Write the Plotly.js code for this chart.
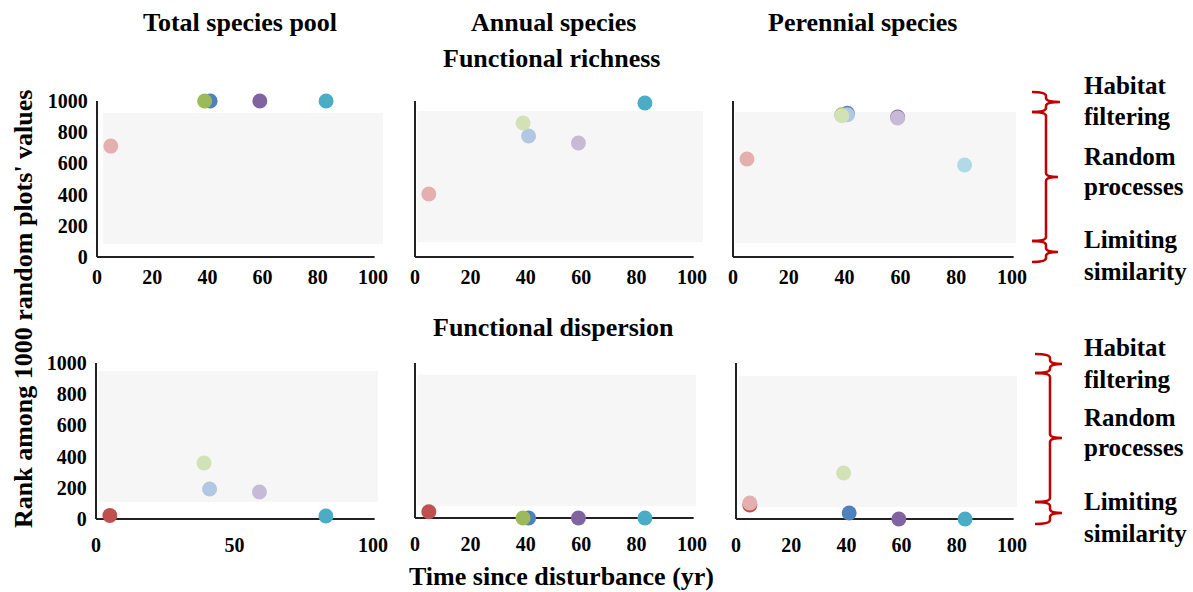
<!DOCTYPE html>
<html><head><meta charset="utf-8">
<script src="https://cdn.plot.ly/plotly-3.0.1.min.js"></script>
<style>html,body{margin:0;padding:0;background:#fff}</style>
</head><body><div id="chart" style="width:1193px;height:592px"></div>
<script>
// ---------- data ----------
const years = [5, 39, 41, 59, 83];               // time since disturbance (yr) of each site
const siteColors  = ['#C0504D', '#9BBB59', '#4F81BD', '#8064A2', '#4BACC6'];
const fadedColors = ['#E4B0AF', '#D3E1B6', '#B2C7E2', '#C7BAD6', '#AFDAE6'];
const columnTitles = ['Total species pool', 'Annual species', 'Perennial species'];
const rowTitles = ['Functional richness', 'Functional dispersion'];
const yTickVals = [0, 200, 400, 600, 800, 1000];
const xTickFine = [0, 20, 40, 60, 80, 100];
const xTickCoarse = [0, 50, 100];
const yAxisTitle = "Rank among 1000 random plots' values";
const xAxisTitle = 'Time since disturbance (yr)';
const processLabels = [['Habitat', 'filtering'], ['Random', 'processes'], ['Limiting', 'similarity']];

// ranks: significant (full colour) and non-significant (faded) values, null = none
const fricTotalSig     = [null, 1000, 1000, 1000, 1000];
const fricTotalNs      = [711, null, null, null, null];
const fricAnnualSig    = [null, null, null, null, 987];
const fricAnnualNs     = [404, 859, 776, 731, null];
const fricPerennialSig = [null, 912, 921, 897, null];
const fricPerennialNs  = [628, 905, 912, 891, 590];
const fdisTotalSig     = [22, null, null, null, 19];
const fdisTotalNs      = [null, 359, 192, 173, null];
const fdisAnnualSig    = [40, 0, 0, 0, 0];
const fdisAnnualNs     = [null, null, null, null, null];
const fdisPerennialSig = [90, null, 38, 0, 0];
const fdisPerennialNs  = [103, 295, null, null, null];

// ---------- layout helpers ----------
const W = 1193, H = 592;
const XR = [-1.5, 104], YR = [-25, 1010];
const drawOrder = [0, 2, 1, 3, 4];
function domX(z, h) { const s = (h - z) / 100; return [(z + XR[0] * s) / W, (z + XR[1] * s) / W]; }
function domY(z, t) { const s = (z - t) / 1000; return [1 - (z - YR[0] * s) / H, 1 - (z - YR[1] * s) / H]; }

const panels = [
  {sig: fricTotalSig, ns: fricTotalNs, px: [97, 373], py: [257, 101], xt: xTickFine, ylab: true, band: [2.2, 103.6, 83, 923], stand: 2},
  {sig: fricAnnualSig, ns: fricAnnualNs, px: [415, 692], py: [257, 101], xt: xTickFine, ylab: false, band: [0.8, 104, 96, 936], stand: 2},
  {sig: fricPerennialSig, ns: fricPerennialNs, px: [733, 1012], py: [257, 101], xt: xTickFine, ylab: false, band: [0.8, 101.5, 90, 929], stand: 2},
  {sig: fdisTotalSig, ns: fdisTotalNs, px: [96, 373], py: [519, 363], xt: xTickCoarse, ylab: true, band: [0.8, 101.8, 109, 949], stand: 8},
  {sig: fdisAnnualSig, ns: fdisAnnualNs, px: [415, 692], py: [518, 363], xt: xTickFine, ylab: false, band: [0.8, 101.4, 77, 925], stand: 8},
  {sig: fdisPerennialSig, ns: fdisPerennialNs, px: [736, 1012], py: [519, 363], xt: xTickFine, ylab: false, band: [1, 101.8, 77, 917], stand: 8}
];

const tickFont = {family: 'Liberation Serif, Times New Roman, serif', size: 20, color: '#000', weight: 'bold'};
const textFont = {family: 'Liberation Serif, Times New Roman, serif', size: 26, color: '#000', weight: 'bold'};
const sideFont = {family: 'Liberation Serif, Times New Roman, serif', size: 25, color: '#000', weight: 'bold'};

const traces = [];
const layout = {
  width: W, height: H, margin: {l: 0, r: 0, t: 0, b: 0},
  paper_bgcolor: '#fff', plot_bgcolor: 'rgba(0,0,0,0)', showlegend: false,
  shapes: [], annotations: []
};

panels.forEach((p, i) => {
  const n = i === 0 ? '' : String(i + 1);
  const xa = 'x' + n, ya = 'y' + n;
  layout['xaxis' + n] = {
    domain: domX(p.px[0], p.px[1]), range: XR, anchor: ya,
    showgrid: false, zeroline: false, showline: false, ticks: '',
    tickvals: p.xt, ticktext: p.xt.map(String), tickfont: tickFont, ticklabelstandoff: p.stand, fixedrange: true
  };
  layout['yaxis' + n] = {
    domain: domY(p.py[0], p.py[1]), range: YR, anchor: xa,
    showgrid: false, zeroline: false, showline: false, ticks: '',
    tickvals: yTickVals, showticklabels: p.ylab, tickfont: tickFont, ticklabelstandoff: 4, fixedrange: true
  };
  // grey band (random-process zone)
  layout.shapes.push({type: 'rect', xref: xa, yref: ya, x0: p.band[0], x1: p.band[1], y0: p.band[2], y1: p.band[3],
    fillcolor: '#F6F6F6', line: {width: 0}, layer: 'below'});
  // axis lines
  layout.shapes.push({type: 'line', xref: xa, yref: ya, x0: 0, x1: 100.6, y0: 0, y1: 0, line: {color: '#222', width: 2}, layer: 'below'});
  layout.shapes.push({type: 'line', xref: xa, yref: ya, x0: 0, x1: 0, y0: 0, y1: 1000, line: {color: '#222', width: 2}, layer: 'below'});

  [['sig', siteColors], ['ns', fadedColors]].forEach(([k, cols]) => {
    const xs = [], ys = [], cs = [];
    drawOrder.forEach(j => {
      const v = p[k][j];
      if (v !== null) { xs.push(years[j]); ys.push(v); cs.push(cols[j]); }
    });
    if (xs.length) traces.push({type: 'scatter', mode: 'markers', x: xs, y: ys, xaxis: xa, yaxis: ya,
      cliponaxis: false, hoverinfo: 'x+y', marker: {size: 15, color: cs, line: {width: 0}}});
  });
});

// titles
const colX = [240, 553, 862];
columnTitles.forEach((t, i) => layout.annotations.push({text: '<b>' + t + '</b>', xref: 'paper', yref: 'paper',
  x: colX[i] / W, y: 1 - 23 / H, xanchor: 'center', yanchor: 'middle', showarrow: false, font: textFont}));
layout.annotations.push({text: '<b>' + rowTitles[0] + '</b>', xref: 'paper', yref: 'paper', x: 551 / W, y: 1 - 58 / H,
  xanchor: 'center', yanchor: 'middle', showarrow: false, font: textFont});
layout.annotations.push({text: '<b>' + rowTitles[1] + '</b>', xref: 'paper', yref: 'paper', x: 553 / W, y: 1 - 327 / H,
  xanchor: 'center', yanchor: 'middle', showarrow: false, font: textFont});
layout.annotations.push({text: '<b>' + xAxisTitle + '</b>', xref: 'paper', yref: 'paper', x: 561 / W, y: 1 - 576 / H,
  xanchor: 'center', yanchor: 'middle', showarrow: false, font: textFont});
layout.annotations.push({text: '<b>' + yAxisTitle + '</b>', xref: 'paper', yref: 'paper', x: 23 / W, y: 1 - 309 / H,
  xanchor: 'center', yanchor: 'middle', textangle: -90, showarrow: false, font: textFont});

// process labels on the right
const labelRows = [[[85, 117], [157, 186], [239, 271]], [[347, 379], [418, 447], [501, 533]]];
labelRows.forEach(rows => rows.forEach((ys, k) => ys.forEach((yy, m) =>
  layout.annotations.push({text: '<b>' + processLabels[k][m] + '</b>', xref: 'paper', yref: 'paper',
    x: 1082 / W, y: 1 - yy / H, xanchor: 'left', yanchor: 'middle', showarrow: false, font: sideFont}))));

// braces
const P = (x, y) => (x / W).toFixed(5) + ',' + (1 - y / H).toFixed(5);
function brace(x0, xs, xt, ya, ym, yb) {
  const r = 4;
  return 'M' + P(x0, ya) + ' Q' + P(xs, ya) + ' ' + P(xs, ya + r) + ' L' + P(xs, ym - r) +
    ' Q' + P(xs, ym) + ' ' + P(xt, ym) + ' Q' + P(xs, ym) + ' ' + P(xs, ym + r) +
    ' L' + P(xs, yb - r) + ' Q' + P(xs, yb) + ' ' + P(x0, yb);
}
const braces = [
  [1032, 1046, 1060, 92, 102, 112], [1032, 1046, 1058, 112, 177, 241], [1032, 1046, 1058, 241, 252, 262],
  [1035, 1050, 1062, 354, 364, 373], [1035, 1050, 1062, 373, 438, 502], [1035, 1050, 1062, 502, 513, 524]
];
braces.forEach(b => layout.shapes.push({type: 'path', xref: 'paper', yref: 'paper', path: brace(...b),
  line: {color: '#C00000', width: 2.5}}));

Plotly.newPlot('chart', traces, layout, {displayModeBar: false, staticPlot: true});
</script></body></html>
